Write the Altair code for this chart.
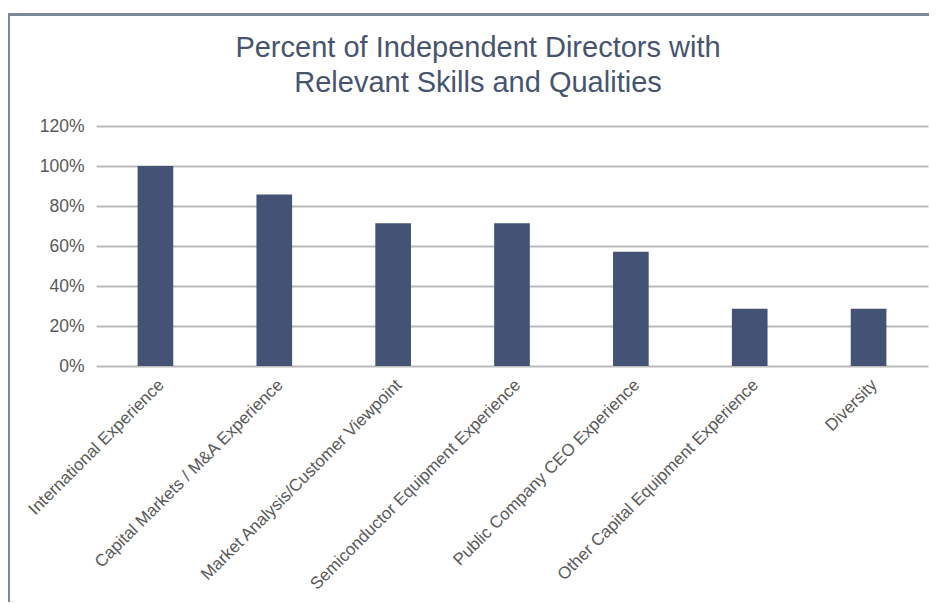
import altair as alt
import pandas as pd

categories = [
    "International Experience",
    "Capital Markets / M&A Experience",
    "Market Analysis/Customer Viewpoint",
    "Semiconductor Equipment Experience",
    "Public Company CEO Experience",
    "Other Capital Equipment Experience",
    "Diversity",
]
percent = [1.00, 0.857, 0.714, 0.714, 0.571, 0.286, 0.286]
y_ticks = [0, 0.2, 0.4, 0.6, 0.8, 1.0, 1.2]

df = pd.DataFrame({"skill": categories, "pct": percent})

FONT = "Liberation Sans"
BAR = "#435275"

bars = alt.Chart(df).mark_bar(color=BAR).encode(
    x=alt.X(
        "skill:N",
        sort=categories,
        title=None,
        scale=alt.Scale(paddingInner=0.7, paddingOuter=0.35),
        axis=alt.Axis(
            labelAngle=-45,
            labelAlign="right",
            labelBaseline="middle",
            labelFontSize=17,
            labelFont=FONT,
            labelColor="#595959",
            labelPadding=16,
            labelOffset=6,
            ticks=False,
            domain=False,
            grid=False,
            labelLimit=400,
        ),
    ),
    y=alt.Y(
        "pct:Q",
        title=None,
        scale=alt.Scale(domain=[0, 1.2], nice=False),
        axis=alt.Axis(
            values=y_ticks,
            format=".0%",
            labelFontSize=17.5,
            labelFont=FONT,
            labelColor="#595959",
            labelPadding=12,
            ticks=False,
            domain=False,
            grid=True,
            gridColor="#bababa",
            gridWidth=1.8,
        ),
    ),
)

frame_left = alt.Chart(df).mark_rule(color="#7d8797", strokeWidth=2).encode(
    x=alt.value(-87.5), y=alt.value(-111.5), y2=alt.value(600)
)
frame_top = alt.Chart(df).mark_rule(color="#7d8797", strokeWidth=2).encode(
    x=alt.value(-87.5), x2=alt.value(900), y=alt.value(-111.5)
)

chart = (
    alt.layer(bars, frame_left, frame_top)
    .properties(
        width=832,
        height=240,
        background="white",
        autosize=alt.AutoSizeParams(type="none"),
        padding={"left": 88, "top": 118, "right": 1, "bottom": 236},
        title=alt.TitleParams(
            text=["Percent of Independent Directors with", "Relevant Skills and Qualities"],
            font=FONT,
            fontSize=29,
            fontWeight="normal",
            color="#46556f",
            anchor="middle",
            dx=-34,
            offset=-84,
            lineHeight=35,
        ),
    )
    .configure_view(strokeWidth=0, stroke="transparent")
)

chart.save("out.html", embed_options={"renderer": "svg", "actions": False})
